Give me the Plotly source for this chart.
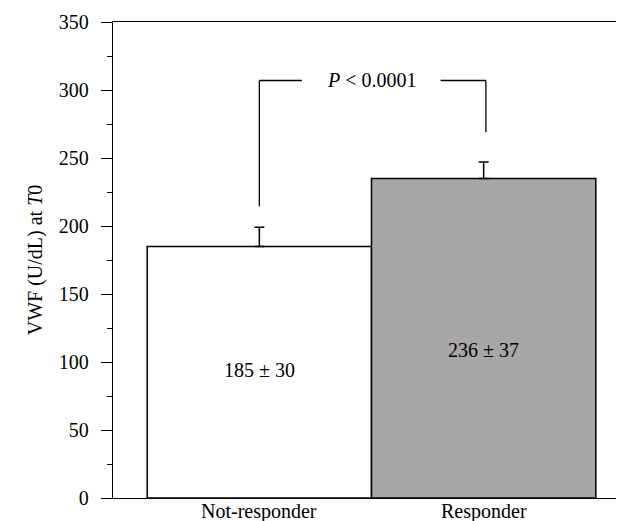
import plotly.graph_objects as go

categories = ["Not-responder", "Responder"]
bar_values = [185, 235]
err_upper = [14, 12]
label_means = [185, 236]
label_sds = [30, 37]
bar_colors = ["#ffffff", "#a8a6a7"]
p_text = "<i>P</i> < 0.0001"

FONT = "Liberation Serif"
FS = 20
xpos = list(range(len(categories)))

fig = go.Figure()
fig.add_trace(go.Bar(
    x=xpos, y=bar_values, width=1,
    marker=dict(color=bar_colors, line=dict(color="black", width=1.5)),
    error_y=dict(type="data", array=err_upper, arrayminus=[0] * len(err_upper),
                 symmetric=False, color="black", thickness=1.5, width=5),
    showlegend=False,
))

# inner value labels
label_y = [94, 109]
for i, (m, s) in enumerate(zip(label_means, label_sds)):
    fig.add_annotation(x=xpos[i], y=label_y[i], text=f"{m} ± {s}", showarrow=False,
                       font=dict(family=FONT, size=FS, color="black"))

# category labels below the axis
for i, c in enumerate(categories):
    fig.add_annotation(x=xpos[i], xref="x", y=0, yref="paper", yanchor="top",
                       yshift=-1, text=c, showarrow=False, borderpad=0,
                       font=dict(family=FONT, size=FS, color="black"))

# significance bracket
by = 307
lw = dict(color="black", width=1.3)
fig.add_shape(type="line", x0=0, x1=0, y0=214.5, y1=by, line=lw)
fig.add_shape(type="line", x0=0, x1=0.19, y0=by, y1=by, line=lw)
fig.add_shape(type="line", x0=0.808, x1=1.01, y0=by, y1=by, line=lw)
fig.add_shape(type="line", x0=1.01, x1=1.01, y0=269, y1=by, line=lw)
fig.add_annotation(x=0.5, y=by, text=p_text, showarrow=False,
                   font=dict(family=FONT, size=FS, color="black"))

fig.update_layout(
    width=624, height=521,
    margin=dict(l=105, r=2, t=14, b=31),
    plot_bgcolor="white", paper_bgcolor="white",
    font=dict(family=FONT, size=FS, color="black"),
    xaxis=dict(range=[-0.6525, 1.6525], tickvals=xpos, showticklabels=False,
               showline=True, linecolor="black", linewidth=1.3, mirror=True,
               ticks="", showgrid=False, zeroline=False),
    yaxis=dict(range=[0, 350], tickvals=[0, 50, 100, 150, 200, 250, 300, 350],
               showline=True, linecolor="black", linewidth=1.3, mirror=True,
               ticks="outside", ticklen=11, tickwidth=1.3, tickcolor="black",
               ticklabelstandoff=8,
               minor=dict(tickvals=[25, 75, 125, 175, 225, 275, 325], ticks="outside",
                          ticklen=5, tickwidth=1.3, tickcolor="black"),
               showgrid=False, zeroline=False,
               title=dict(text="VWF (U/dL) at <i>T</i>0", font=dict(family=FONT, size=FS), standoff=10),
               tickfont=dict(family=FONT, size=FS)),
)

fig.write_html("out.html")
